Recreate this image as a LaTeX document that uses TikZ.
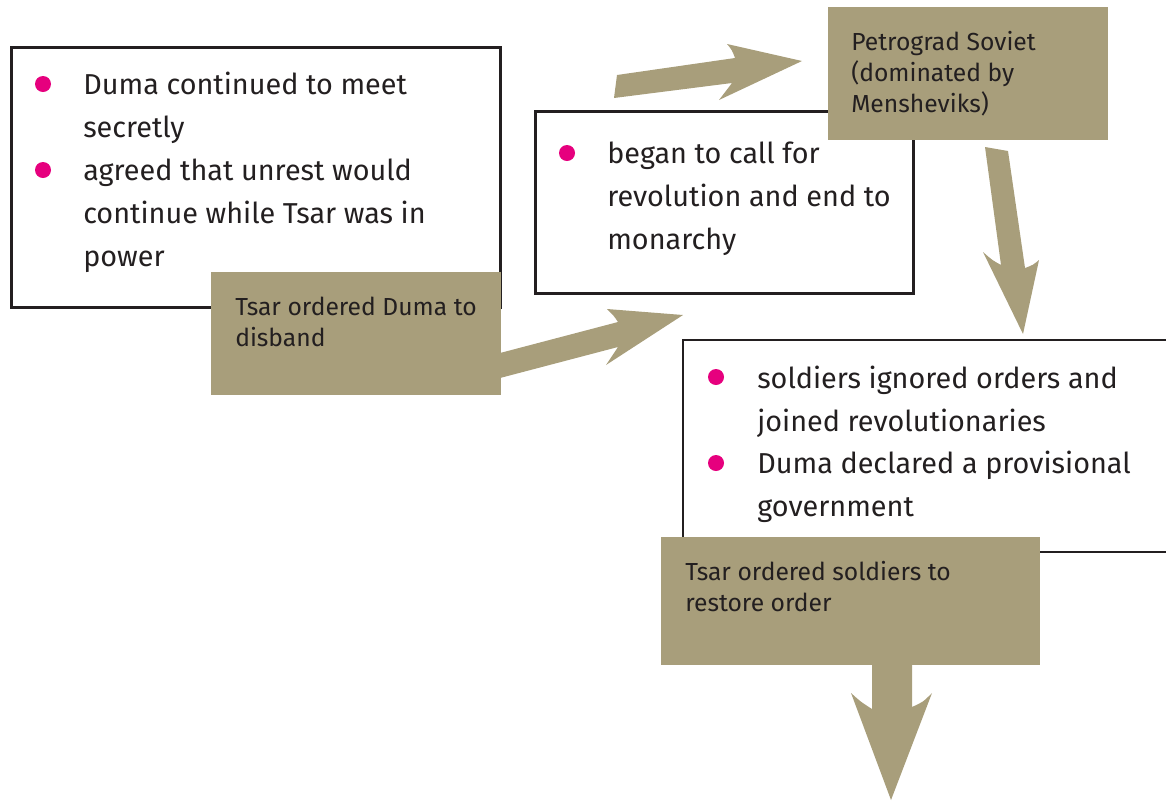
\documentclass[tikz,border=0pt]{standalone}
\usepackage{fontspec}
\setmainfont{Fira Sans}
\definecolor{tanc}{HTML}{A89E7B}
\definecolor{bulc}{HTML}{E6007E}
\definecolor{txtc}{HTML}{231F20}
\tikzset{
  wbox/.style={draw=txtc, line width=1.9pt, fill=white},
  tbox/.style={fill=tanc, draw=none},
  arr/.style={fill=tanc, draw=none},
  bul/.style={circle, fill=bulc, inner sep=0pt, minimum size=12pt},
  wtxt/.style={anchor=base west, inner sep=0pt, align=left, text=txtc, font=\fontsize{21.6}{32.25}\selectfont},
  ttxt/.style={anchor=base west, inner sep=0pt, align=left, text=txtc, font=\fontsize{18.5}{23.25}\selectfont}
}
\begin{document}
\begin{tikzpicture}[x=0.75pt,y=-0.75pt]
\useasboundingbox (0,0) rectangle (1166,801);
% box 1
\node[wbox, minimum width=489*0.75pt, minimum height=260*0.75pt, anchor=north west, inner sep=0pt] (b1) at (10,46) {};
\node[bul] (b1d1) at (43,84) {};
\node[bul] (b1d2) at (43,170) {};
\node[wtxt] (b1t1) at (83,137) {Duma continued to meet\\secretly};
\node[wtxt] (b1t2) at (83,266) {agreed that unrest would\\continue while Tsar was in\\power};
% arrow A (behind tan1)
\fill[arr] (500,353) -- (618,322) .. controls (614,316) .. (607,309) -- (683,315) -- (606,365) .. controls (612,356) .. (618,347) -- (500,378) -- cycle;
% tan 1
\node[tbox, minimum width=290*0.75pt, minimum height=123*0.75pt, anchor=north west, inner sep=0pt] (t1) at (211,272) {};
\node[ttxt] (t1t) at (235,346) {Tsar ordered Duma to\\disband};
% box 2
\node[wbox, minimum width=378*0.75pt, minimum height=182*0.75pt, anchor=north west, inner sep=0pt] (b2) at (534,110) {};
\node[bul] (b2d1) at (567,153) {};
\node[wtxt] (b2t1) at (607,249) {began to call for\\revolution and end to\\monarchy};
% arrow B
\fill[arr] (617,75) -- (735,58) .. controls (732,50) .. (727,44) -- (802,61) -- (719,100) .. controls (726,92) .. (732,83) -- (614,98) -- cycle;
% tan 2
\node[tbox, minimum width=280*0.75pt, minimum height=133*0.75pt, anchor=north west, inner sep=0pt] (t2) at (828,7) {};
\node[ttxt] (t2t) at (851,112) {Petrograd Soviet\\(dominated by\\Mensheviks)};
% arrow C
\fill[arr] (985,147) -- (1008,151) -- (1025,268) .. controls (1033,265) .. (1039,260) -- (1023,334) -- (983,252) .. controls (992,260) .. (1001,265) -- cycle;
% box 3
\fill[white] (683,340) rectangle (1166,552);
\draw[draw=txtc, line width=2.1pt] (1170,340) -- (683,340) -- (683,552) -- (1170,552);
\coordinate (b3) at (683,340);
\node[bul] (b3d1) at (716,377) {};
\node[bul] (b3d2) at (716,463) {};
\node[wtxt] (b3t1) at (757,431) {soldiers ignored orders and\\joined revolutionaries};
\node[wtxt] (b3t2) at (757,516) {Duma declared a provisional\\government};
% tan 3
\node[tbox, minimum width=379*0.75pt, minimum height=128*0.75pt, anchor=north west, inner sep=0pt] (t3) at (661,537) {};
\node[ttxt] (t3t) at (685,611) {Tsar ordered soldiers to\\restore order};
% arrow D
\fill[arr] (872,664) -- (912,664) -- (912,707) .. controls (923,702) .. (932,693) -- (891,800) -- (851,693) .. controls (861,702) .. (872,709) -- cycle;
\end{tikzpicture}
\end{document}
